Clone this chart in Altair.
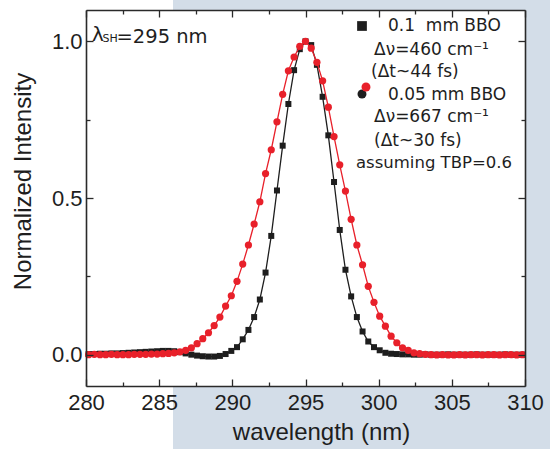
import altair as alt
import pandas as pd

# ---------------- data ----------------
wavelength = [
    280.18, 280.57, 280.96, 281.35, 281.74, 282.13, 282.52, 282.91, 283.30, 283.69,
    284.08, 284.47, 284.86, 285.25, 285.64, 286.03, 286.42, 286.81, 287.20, 287.59,
    287.98, 288.37, 288.76, 289.15, 289.54, 289.93, 290.32, 290.71, 291.10, 291.49,
    291.88, 292.27, 292.66, 293.05, 293.44, 293.83, 294.22, 294.61, 295.00, 295.39,
    295.78, 296.17, 296.56, 296.95, 297.34, 297.73, 298.12, 298.51, 298.90, 299.29,
    299.68, 300.07, 300.46, 300.85, 301.24, 301.63, 302.02, 302.41, 302.80, 303.19,
    303.58, 303.97, 304.36, 304.75, 305.14, 305.53, 305.92, 306.31, 306.70, 307.09,
    307.48, 307.87, 308.26, 308.65, 309.04, 309.43, 309.82,
]

# 0.1 mm BBO (black squares)
bbo_010 = [
    0.002, 0.002, 0.003, 0.003, 0.004, 0.004, 0.005, 0.006, 0.007, 0.008,
    0.009, 0.010, 0.011, 0.012, 0.012, 0.011, 0.008, 0.004, 0.000, -0.003,
    -0.005, -0.006, -0.006, -0.004, 0.002, 0.012, 0.024, 0.049, 0.079, 0.120,
    0.176, 0.262, 0.379, 0.524, 0.667, 0.800, 0.908, 0.975, 1.000, 0.988,
    0.925, 0.823, 0.700, 0.551, 0.398, 0.271, 0.186, 0.120, 0.074, 0.042,
    0.024, 0.014, 0.006, 0.003, 0.002, 0.001, 0.001, 0.000, 0.000, 0.001,
    0.000, 0.000, 0.000, 0.001, 0.000, 0.000, 0.000, 0.000, 0.001, 0.000,
    0.000, 0.000, 0.000, 0.001, 0.000, 0.000, 0.000,
]

# 0.05 mm BBO (red circles)
bbo_005 = [
    0.000, 0.001, 0.000, 0.000, 0.001, 0.000, 0.000, 0.000, 0.001, 0.001,
    0.001, 0.002, 0.002, 0.003, 0.004, 0.006, 0.009, 0.014, 0.022, 0.035,
    0.051, 0.070, 0.093, 0.120, 0.155, 0.188, 0.234, 0.289, 0.350, 0.417,
    0.488, 0.578, 0.654, 0.743, 0.831, 0.906, 0.950, 0.984, 1.000, 0.978,
    0.933, 0.874, 0.790, 0.696, 0.606, 0.522, 0.432, 0.350, 0.287, 0.218,
    0.167, 0.123, 0.091, 0.059, 0.038, 0.022, 0.014, 0.006, 0.003, 0.001,
    0.000, -0.001, 0.000, -0.001, -0.001, 0.000, -0.001, 0.000, 0.000, -0.001,
    0.000, 0.000, -0.001, 0.000, 0.000, -0.001, 0.000,
]

x_major = [280, 285, 290, 295, 300, 305, 310]
x_minor = [282.5, 287.5, 292.5, 297.5, 302.5, 307.5]
y_major = [0.0, 0.5, 1.0]
y_minor = [0.25, 0.75]

legend_lines = [
    "0.1\u00a0 mm BBO",
    "\u0394\u03bd=460 cm\u207b\u00b9",
    "(\u0394t~44 fs)",
    "0.05 mm BBO",
    "\u0394\u03bd=667 cm\u207b\u00b9",
    "(\u0394t~30 fs)",
    "assuming TBP=0.6",
]

df = pd.DataFrame({"wavelength": wavelength, "bbo_010": bbo_010, "bbo_005": bbo_005})
one = pd.DataFrame({"a": [0]})

# ---------------- styling ----------------
W, H = 439, 376
BLUE = "#d3dde8"
RED = "#e8202a"
BLACK = "#1e1e1e"
FRAME = "#2a2a2a"
FONT_AX = "Liberation Sans"
FONT_TX = "DejaVu Sans"

xs = alt.Scale(domain=[280, 310], nice=False, zero=False)
ys = alt.Scale(domain=[-0.1, 1.1], nice=False, zero=False)


def tick_axis(orient, offset, values, size, frame=False):
    return alt.Axis(orient=orient, offset=offset, values=values, tickSize=size,
                    labels=False, domain=frame, domainColor=FRAME, domainWidth=1.6,
                    ticks=True, grid=False, title=None,
                    tickColor=FRAME, tickWidth=1.3, zindex=2)


x_lab = alt.Axis(orient="bottom", values=x_major, format=".0f", ticks=False, tickSize=0,
                 domain=False, grid=False, labelFont=FONT_AX, labelFontSize=22,
                 labelColor=BLACK, labelBaseline="alphabetic", labelPadding=23,
                 labelFlush=False, labelOverlap=False,
                 title="wavelength (nm)", titleFont=FONT_AX, titleFontSize=24,
                 titleFontWeight="normal", titleColor=BLACK, titleX=235, titleY=53,
                 titleAlign="center", titleBaseline="alphabetic", zindex=2)
y_lab = alt.Axis(orient="left", values=y_major, format=".1f", ticks=False, tickSize=0,
                 domain=False, grid=False, labelFont=FONT_AX, labelFontSize=22,
                 labelColor=BLACK, labelPadding=4, labelOverlap=False, labelFlush=False,
                 title="Normalized Intensity", titleFont=FONT_AX, titleFontSize=24,
                 titleFontWeight="normal", titleColor=BLACK, titleX=-56, titleY=171,
                 titleAlign="center", titleBaseline="alphabetic", zindex=2)

# white panel on the left of the slide background
panel = alt.Chart(one).mark_rect(color="white", clip=False).encode(
    x=alt.value(-86), x2=alt.value(87), y=alt.value(-10), y2=alt.value(439))

black_line = alt.Chart(df).mark_line(color=BLACK, strokeWidth=1.3).encode(
    x=alt.X("wavelength:Q", scale=xs, axis=x_lab),
    y=alt.Y("bbo_010:Q", scale=ys, axis=y_lab))

black_pts = alt.Chart(df).mark_point(shape="square", filled=True, color=BLACK, opacity=1, size=36).encode(
    x=alt.X("wavelength:Q", scale=xs, axis=tick_axis("top", -H, x_major, 7, True)),
    y=alt.Y("bbo_010:Q", scale=ys, axis=tick_axis("right", -W, y_major, 7, True)))

red_line = alt.Chart(df).mark_line(color=RED, strokeWidth=1.3).encode(
    x=alt.X("wavelength:Q", scale=xs, axis=tick_axis("top", -H, x_minor, 4)),
    y=alt.Y("bbo_005:Q", scale=ys, axis=tick_axis("right", -W, y_minor, 4)))

red_pts = alt.Chart(df).mark_point(shape="circle", filled=True, color=RED, opacity=1, size=52).encode(
    x=alt.X("wavelength:Q", scale=xs, axis=tick_axis("bottom", -H, x_major, 7, True)),
    y=alt.Y("bbo_005:Q", scale=ys, axis=tick_axis("left", -W, y_major, 7, True)))

hidden = alt.Chart(df).mark_point(opacity=0).encode(
    x=alt.X("wavelength:Q", scale=xs, axis=tick_axis("bottom", -H, x_minor, 4)),
    y=alt.Y("bbo_005:Q", scale=ys, axis=tick_axis("left", -W, y_minor, 4)))


def txt(s, x, y, size, font=FONT_TX, baseline="middle"):
    return alt.Chart(one).mark_text(text=s, font=font, fontSize=size, color=BLACK,
                                    align="left", baseline=baseline, clip=False).encode(
        x=alt.value(x), y=alt.value(y))


def marker(shape, color, x, y, size):
    return alt.Chart(one).mark_point(shape=shape, filled=True, color=color, opacity=1,
                                     size=size).encode(x=alt.value(x), y=alt.value(y))


annot = [
    txt("\u03bb", 6, 31, 20, baseline="alphabetic"),
    txt("SH", 16.5, 32, 11, baseline="alphabetic"),
    txt("=295 nm", 30.5, 33, 19.5, baseline="alphabetic"),
    marker("square", BLACK, 276, 16, 95),
    txt(legend_lines[0], 302, 16, 17),
    txt(legend_lines[1], 288, 40, 17),
    txt(legend_lines[2], 285, 62, 17),
    marker("circle", BLACK, 276, 84, 80),
    marker("circle", RED, 280, 77, 80),
    txt(legend_lines[3], 302, 85, 17),
    txt(legend_lines[4], 288, 107, 17),
    txt(legend_lines[5], 288, 131, 17),
    txt(legend_lines[6], 270, 153, 16.5),
]

chart = alt.layer(panel, black_line, black_pts, red_line, red_pts, hidden, *annot).resolve_axis(
    x="independent", y="independent"
).properties(
    width=W, height=H,
    autosize=alt.AutoSizeParams(type="none"),
    padding={"left": 86, "top": 10, "right": 25, "bottom": 63},
    background=BLUE,
).configure_view(fill="white", strokeWidth=0)

chart.save("out.html", embed_options={"renderer": "svg", "actions": False})
